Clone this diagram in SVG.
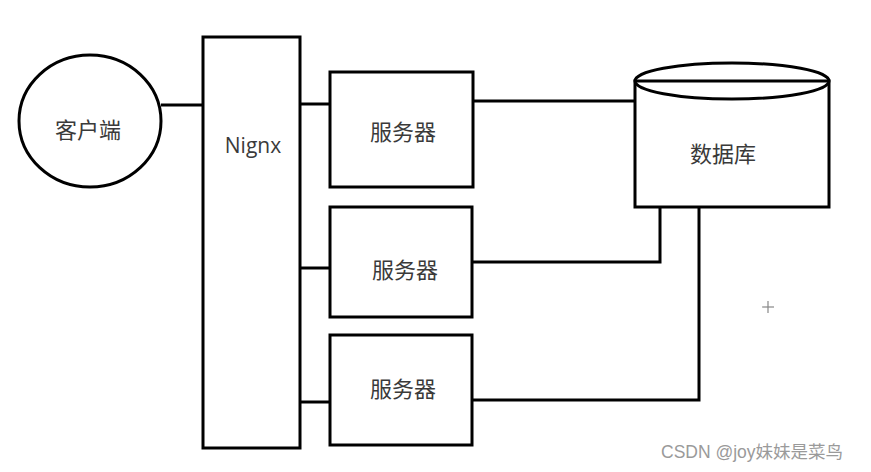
<svg xmlns="http://www.w3.org/2000/svg" width="871" height="472" viewBox="0 0 871 472">
<style>
.s{fill:#fff;stroke:#000;stroke-width:3}
.c{fill:none;stroke:#000;stroke-width:3}
.t{font-family:"Noto Sans CJK SC","Noto Sans",sans-serif;font-size:22px;fill:#3a3a3a;text-anchor:middle;dominant-baseline:central}
.w{font-family:"Liberation Sans","Noto Sans CJK SC",sans-serif;font-size:17.5px;fill:#9a9a9a}
</style>
<rect width="871" height="472" fill="#fff"/>
<g id="connectors">
<line class="c" x1="161" y1="105" x2="203" y2="105"/>
<line class="c" x1="300" y1="104" x2="330" y2="104"/>
<line class="c" x1="300" y1="268" x2="330" y2="268"/>
<line class="c" x1="300" y1="402" x2="330" y2="402"/>
<line class="c" x1="473" y1="101" x2="635" y2="101"/>
<polyline class="c" points="472,262 660,262 660,207"/>
<polyline class="c" points="472,400 699,400 699,207"/>
</g>
<g id="client">
<ellipse class="s" cx="90" cy="121" rx="71" ry="66"/>
<text class="t" x="88" y="128">客户端</text>
</g>
<g id="nignx">
<rect class="s" x="203" y="37" width="97" height="411"/>
<text class="t" x="253" y="145" style="font-family:'Open Sans','Noto Sans',sans-serif;font-size:21px">Nignx</text>
</g>
<g id="server1">
<rect class="s" x="330" y="72" width="143" height="115"/>
<text class="t" x="403" y="130">服务器</text>
</g>
<g id="server2">
<rect class="s" x="330" y="207" width="142" height="110"/>
<text class="t" x="405" y="268">服务器</text>
</g>
<g id="server3">
<rect class="s" x="330" y="335" width="142" height="110"/>
<text class="t" x="403" y="387">服务器</text>
</g>
<g id="database">
<rect class="s" x="635" y="81" width="194" height="126"/>
<ellipse class="s" cx="732" cy="81" rx="97" ry="18"/>
<line class="c" x1="635" y1="81" x2="829" y2="81"/>
<text class="t" x="723" y="152">数据库</text>
</g>
<g id="marks" stroke="#888" stroke-width="1.2">
<line x1="768" y1="301" x2="768" y2="313"/>
<line x1="762" y1="307" x2="774" y2="307"/>
</g>
<text class="w" x="661" y="458">CSDN @joy妹妹是菜鸟</text>
</svg>
